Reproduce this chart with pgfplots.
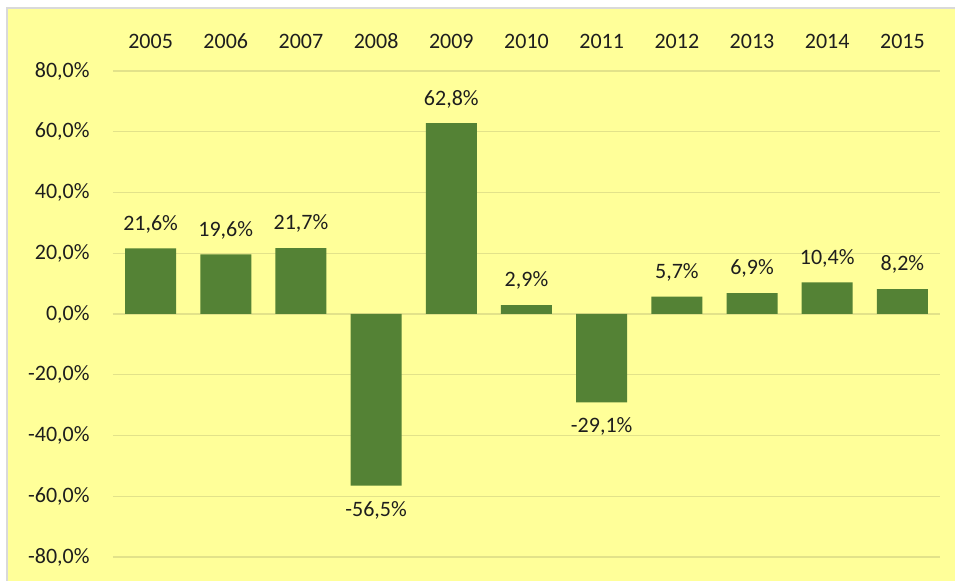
\documentclass[border=0pt]{standalone}
\usepackage{pgfplots}
\pgfplotsset{compat=1.18}
\usepackage{fontspec}
\setmainfont{Carlito}
\definecolor{bgyellow}{HTML}{FFFF99}
\definecolor{bargreen}{HTML}{548235}
\definecolor{gridc}{HTML}{E2E28A}
\definecolor{txt}{HTML}{1E1E1E}
\begin{document}
\begin{tikzpicture}
\useasboundingbox (0,0) rectangle (477.5pt,290.5pt);
\fill[white] (0,0) rectangle (477.5pt,290.5pt);
\fill[bgyellow] (3.5pt,0) rectangle (477.5pt,286.5pt);
\draw[black!15, line width=0.6pt] (3.5pt,0) -- (3.5pt,286.5pt) -- (477.5pt,286.5pt);
\begin{axis}[
  at={(56.5pt,12pt)}, anchor=south west,
  scale only axis, width=413.5pt, height=243pt,
  xmin=-0.5, xmax=10.5, ymin=-80, ymax=80,
  axis line style={draw=none},
  tick style={draw=none},
  xtick={0,...,10},
  xticklabels={2005,2006,2007,2008,2009,2010,2011,2012,2013,2014,2015},
  xticklabel pos=upper,
  xticklabel style={anchor=base, yshift=7pt, inner sep=0pt},
  ytick={-80,-60,...,80},
  ymajorgrids,
  major grid style={gridc, line width=0.6pt},
  yticklabel style={anchor=east, inner sep=0pt, xshift=-11.5pt},
  /pgf/number format/assume math mode=true,
  /pgf/number format/.cd, fixed, fixed zerofill, precision=1, use comma,
  /pgfplots/.cd,
  yticklabel={\pgfmathprintnumber{\tick}\%},
  ticklabel style={font=\fontsize{11}{13}\selectfont, text=txt},
  ybar, bar width=25.5pt, bar shift=0pt,
  nodes near coords={\pgfmathprintnumber{\pgfplotspointmeta}\%},
  nodes near coords style={font=\fontsize{11}{13}\selectfont, text=txt, inner sep=7.5pt},
]
\addplot[fill=bargreen, draw=none] coordinates {
 (0,21.6) (1,19.6) (2,21.7) (3,-56.5) (4,62.8) (5,2.9)
 (6,-29.1) (7,5.7) (8,6.9) (9,10.4) (10,8.2)
};
\end{axis}
\end{tikzpicture}
\end{document}
